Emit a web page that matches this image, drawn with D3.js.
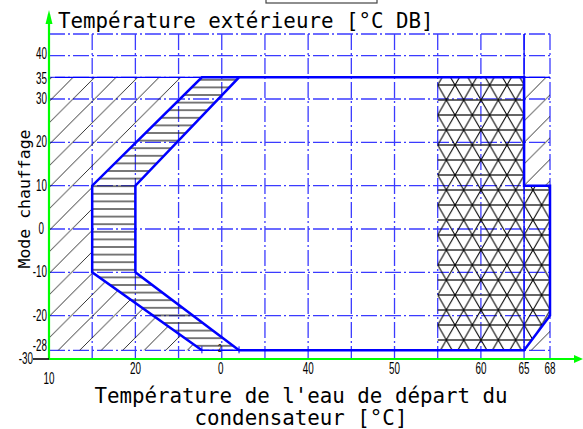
<!DOCTYPE html>
<html>
<head>
<meta charset="utf-8">
<script src="https://cdn.jsdelivr.net/npm/d3@7"></script>
<style>
  body { margin: 0; background: #fff; }
  svg { display: block; }
</style>
</head>
<body>
<svg id="chart"></svg>
<script>
// axis ticks
const xTickValues = [10, 20, 30, 40, 50, 60, 65, 68];
const xTickLabels = ["10", "20", "0", "40", "50", "60", "65", "68"];
const yTickValues = [40, 35, 30, 20, 10, 0, -10, -20, -28, -30];
const yTickLabels = ["40", "35", "30", "20", "10", "0", "-10", "-20", "-28", "-30"];
const xGridValues = [15, 20, 25, 30, 35, 40, 45, 50, 55, 60, 65, 68];
const yGridValues = [45, 40, 35, 30, 20, 10, 0, -10, -20, -28];

// operating envelope (water temp, outdoor temp)
const envelope = [[32, 35], [65, 35], [65, 10], [68, 10], [68, -20], [65, -28], [32, -28], [20, -10], [20, 10]];
const outerLimit = [[32, 35], [27.7, 35], [15, 10], [15, -10], [27.7, -28]];
const bandZone = [[27.7, 35], [32, 35], [20, 10], [20, -10], [32, -28], [27.7, -28], [15, -10], [15, 10]];
const leftZone = [[10, 35], [27.7, 35], [15, 10], [15, -10], [27.7, -28], [10, -28]];
const rightZoneTop = [[65, 35], [68, 35], [68, 10], [65, 10]];
const rightZoneBottom = [[65, -28], [68, -20], [68, -28]];
const triZone = [[55, 35], [65, 35], [65, 10], [68, 10], [68, -20], [65, -28], [55, -28]];

const width = 583, height = 429;
const svg = d3.select("#chart").attr("width", width).attr("height", height);

const x = d3.scaleLinear().domain([10, 68]).range([49, 550]);
const y = d3.scaleLinear().domain([-30, 45]).range([359, 34]);

const line = d3.line().x(d => x(d[0])).y(d => y(d[1]));

// hatch patterns
const defs = svg.append("defs");
const diag = defs.append("pattern").attr("id", "diag")
    .attr("patternUnits", "userSpaceOnUse").attr("width", 21.5).attr("height", 21.5);
diag.append("path").attr("d", "M-2,2 L2,-2 M0,21.5 L21.5,0 M19.5,23.5 L23.5,19.5")
    .attr("stroke", "#000").attr("stroke-width", 0.8);

const horiz = defs.append("pattern").attr("id", "horiz")
    .attr("patternUnits", "userSpaceOnUse").attr("width", 10).attr("height", 7.6);
horiz.append("path").attr("d", "M0,3.8 L10,3.8").attr("stroke", "#222").attr("stroke-width", 1.2);

const s = 17.32;
const tri = defs.append("pattern").attr("id", "tri")
    .attr("patternUnits", "userSpaceOnUse").attr("width", s).attr("height", 30)
    .attr("x", 4.7).attr("y", 25);
tri.append("path").attr("d", `M0,0 L${s},0 M0,15 L${s},15 M0,30 L${s},30`)
    .attr("stroke", "#333").attr("stroke-width", 1.4);
tri.append("path").attr("d", `M0,0 L${s},30 M${s},0 L0,30`)
    .attr("stroke", "#000").attr("stroke-width", 1.1);

// grid
const grid = svg.append("g").attr("stroke", "#1a1aff").attr("stroke-width", 1.3)
    .attr("stroke-dasharray", "16,3,2,3").attr("opacity", 0.85);
grid.selectAll(".vg").data(xGridValues).enter().append("line")
    .attr("x1", d => x(d)).attr("x2", d => x(d))
    .attr("y1", y(45)).attr("y2", y(-30));
grid.selectAll(".hg").data(yGridValues).enter().append("line")
    .attr("x1", x(10)).attr("x2", x(68))
    .attr("y1", d => y(d)).attr("y2", d => y(d));

// hatched zones
svg.append("path").attr("d", line(leftZone) + "Z").attr("fill", "url(#diag)");
svg.append("path").attr("d", line(rightZoneTop) + "Z").attr("fill", "url(#diag)");
svg.append("path").attr("d", line(rightZoneBottom) + "Z").attr("fill", "url(#diag)");
svg.append("path").attr("d", line(bandZone) + "Z").attr("fill", "url(#horiz)");
svg.append("path").attr("d", line(triZone) + "Z").attr("fill", "url(#tri)");

// solid lines at 35 / 65
svg.append("line").attr("x1", x(65)).attr("x2", x(65)).attr("y1", y(45)).attr("y2", y(-28))
    .attr("stroke", "#0000ff").attr("stroke-width", 1.3);
svg.append("line").attr("x1", x(65)).attr("x2", x(68)).attr("y1", y(35)).attr("y2", y(35))
    .attr("stroke", "#0000ff").attr("stroke-width", 1.3);
svg.append("line").attr("x1", x(10) + 6).attr("x2", x(27.7)).attr("y1", y(35)).attr("y2", y(35))
    .attr("stroke", "#0000ff").attr("stroke-width", 1.3);

// envelope outlines
svg.append("path").attr("d", line(envelope) + "Z")
    .attr("fill", "none").attr("stroke", "#0000ff").attr("stroke-width", 2.5);
svg.append("path").attr("d", line(outerLimit))
    .attr("fill", "none").attr("stroke", "#0000ff").attr("stroke-width", 2.5);
svg.append("line").attr("x1", x(27.7)).attr("x2", x(32)).attr("y1", y(-28)).attr("y2", y(-28))
    .attr("stroke", "#0000ff").attr("stroke-width", 1.5);

// small marks at the bottom of the band
svg.selectAll(".mk").data([27.7, 32]).enter().append("line")
    .attr("x1", d => x(d)).attr("x2", d => x(d))
    .attr("y1", y(-28) - 4).attr("y2", y(-28) + 3)
    .attr("stroke", "#0000ff").attr("stroke-width", 1);
svg.append("text").attr("transform", `translate(${x(30) - 2},${y(-28) + 2}) scale(0.6,1)`)
    .attr("font-family", "Liberation Sans").attr("font-size", 11).attr("fill", "#000")
    .attr("text-anchor", "middle").text("2");

// axes (green)
svg.append("line").attr("x1", x(10)).attr("x2", 575).attr("y1", y(-30)).attr("y2", y(-30))
    .attr("stroke", "#00ff00").attr("stroke-width", 2.2);
svg.append("path").attr("d", `M574,${y(-30) - 4} L583,${y(-30)} L574,${y(-30) + 4} Z`).attr("fill", "#00ff00");
svg.append("line").attr("x1", x(10)).attr("x2", x(10)).attr("y1", y(-30)).attr("y2", 14)
    .attr("stroke", "#00ff00").attr("stroke-width", 2.2);
svg.append("path").attr("d", `M${x(10) - 3.5},24 L${x(10)},10 L${x(10) + 3.5},24 Z`).attr("fill", "#00ff00");

// -30 tick
svg.append("line").attr("x1", 33).attr("x2", x(10)).attr("y1", y(-30)).attr("y2", y(-30))
    .attr("stroke", "#000").attr("stroke-width", 1.6);

// tick labels (condensed)
const lab = svg.append("g").attr("font-family", "Liberation Sans").attr("font-size", 17).attr("fill", "#000");
xTickValues.forEach((v, i) => {
    const px = v === 30 ? x(v) - 1 : x(v);
    const py = v === 10 ? 384 : 374;
    lab.append("text").attr("transform", `translate(${px},${py}) scale(0.58,1)`)
        .attr("text-anchor", "middle").text(xTickLabels[i]);
});
const yShift = { 40: -2, 35: 2, "-28": -4 };
yTickValues.forEach((v, i) => {
    const px = v === -30 ? 33 : (v === 0 ? 44 : 47);
    const py = y(v) + 5 + (yShift[v] || 0);
    lab.append("text").attr("transform", `translate(${px},${py}) scale(0.58,1)`)
        .attr("text-anchor", "end").text(yTickLabels[i]);
});

// titles
const mono = "DejaVu Sans Mono";
svg.append("text").attr("x", 58).attr("y", 28).attr("font-family", mono).attr("font-size", 20.8)
    .attr("fill", "#000").text("Température extérieure [°C DB]");
svg.append("text").attr("x", 301).attr("y", 403).attr("font-family", mono).attr("font-size", 20.8)
    .attr("text-anchor", "middle").attr("fill", "#000").text("Température de l'eau de départ du");
svg.append("text").attr("x", 301).attr("y", 425).attr("font-family", mono).attr("font-size", 20.8)
    .attr("text-anchor", "middle").attr("fill", "#000").text("condensateur [°C]");
svg.append("text").attr("transform", "translate(30,199) rotate(-90)")
    .attr("font-family", mono).attr("font-size", 16.5).attr("text-anchor", "middle")
    .attr("fill", "#000").text("Mode chauffage");

// box at the top
svg.append("rect").attr("x", 266).attr("y", -5).attr("width", 111).attr("height", 8)
    .attr("fill", "none").attr("stroke", "#444").attr("stroke-width", 1.2);
</script>
</body>
</html>
